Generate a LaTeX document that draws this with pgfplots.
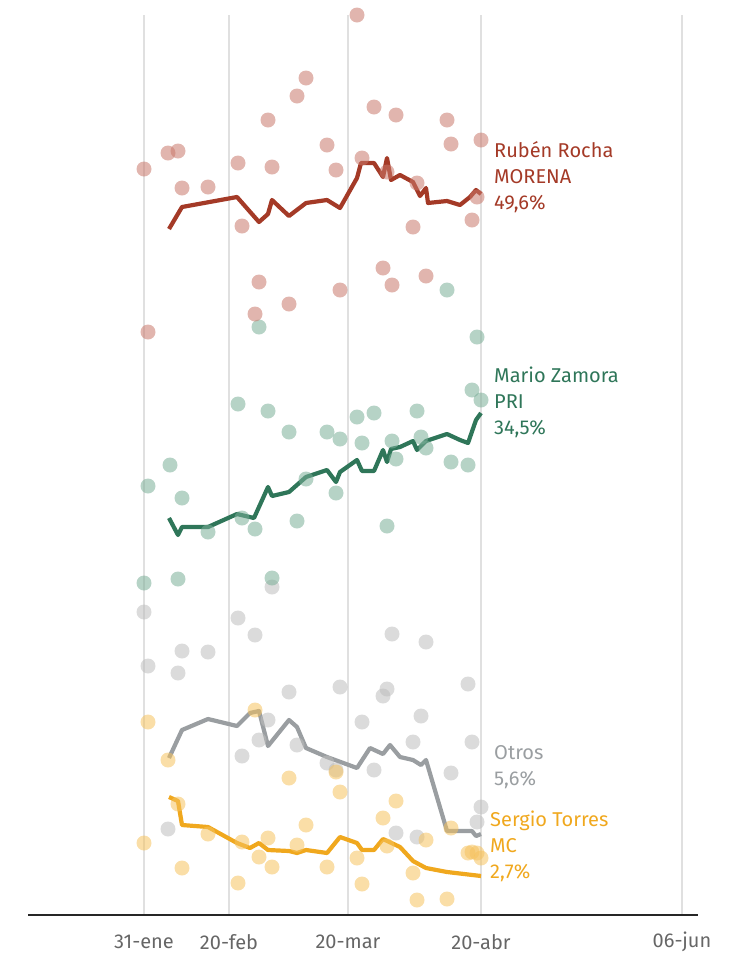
\documentclass[border=0pt]{standalone}
\usepackage{pgfplots}
\pgfplotsset{compat=1.18}
\usepackage{fontspec}
\setmainfont{Fira Sans}
\definecolor{rl}{HTML}{A43A27}\definecolor{rd}{HTML}{C9786B}
\definecolor{zl}{HTML}{2F7659}\definecolor{zd}{HTML}{7AAE97}
\definecolor{ol}{HTML}{9A9EA1}\definecolor{od}{HTML}{BDBDBD}
\definecolor{tl}{HTML}{F0A81E}\definecolor{td}{HTML}{F5C25E}
\begin{document}
\begin{tikzpicture}
\begin{axis}[scale only axis, width=750pt, height=962pt, xmin=0, xmax=750, ymin=0, ymax=962,
  y dir=reverse, hide axis, clip=false,
  dots/.style={only marks, mark=*, mark size=7.5pt, mark options={draw opacity=0, fill opacity=0.55}},
  ln/.style={no marks, line width=4.2pt, line join=round}]
\path (axis cs:0,0) rectangle (axis cs:750,962);
\foreach \x in {144,229,348,481,682}{\edef\t{\noexpand\draw[black!12, line width=1.2pt] (axis cs:\x,15)--(axis cs:\x,915);}\t}
\draw[black!85, line width=1.5pt] (axis cs:28,915)--(axis cs:698,915);
\foreach \x/\l in {144/31-ene,229/20-feb,348/20-mar,481/20-abr,682/06-jun}{\edef\t{\noexpand\node[text=black!60,font=\noexpand\fontsize{20}{22}\noexpand\selectfont] at (axis cs:\x,942) {\l};}\t}
% Otros
\addplot[dots, color=od] coordinates {(144,612)(148,666)(168,829)(178,673)(182,651)(208,652)(238,618)(242,756)(255,635)(259,740)(268,720)(272,587)(289,692)(297,745)(327,763)(336,770)(340,687)(362,722)(374,770)(383,696)(387,689)(392,634)(396,833)(413,742)(417,837)(421,716)(426,642)(451,773)(468,684)(472,742)(477,822)(481,807)};
% Torres
\addplot[dots, color=td] coordinates {(144,843)(148,722)(168,760)(178,804)(182,868)(208,834)(238,883)(242,842)(255,710)(259,857)(268,838)(272,867)(289,778)(297,845)(306,825)(327,867)(336,772)(340,792)(357,858)(362,884)(383,818)(387,846)(396,801)(413,873)(417,900)(426,840)(447,899)(451,828)(468,853)(472,852)(477,853)(481,858)};
% Zamora
\addplot[dots, color=zd] coordinates {(144,583)(148,486)(170,465)(178,579)(182,498)(208,532)(238,404)(242,518)(255,529)(259,327)(268,411)(272,578)(289,432)(297,521)(306,479)(327,432)(336,493)(340,439)(357,417)(362,443)(374,413)(387,526)(392,441)(396,459)(417,411)(421,437)(426,448)(447,290)(451,462)(468,465)(472,390)(477,337)(481,400)};
% Rocha
\addplot[dots, color=rd] coordinates {(144,169)(148,332)(168,153)(178,151)(182,188)(208,187)(238,163)(242,226)(255,314)(259,282)(268,120)(272,167)(289,304)(297,96)(306,78)(327,145)(336,170)(340,290)(357,15)(362,158)(374,107)(383,268)(387,172)(392,285)(396,115)(413,227)(417,183)(426,276)(447,120)(451,144)(472,220)(477,197)(481,140)};
\addplot[ln, color=rl] coordinates {(169,229)(182,207)(237,197)(259,222)(268,214)(272,200)(289,216)(306,203)(327,200)(340,208)(357,178)(361,163)(374,163)(383,177)(387,158)(391,180)(400,175)(413,182)(420,196)(426,188)(428,203)(447,201)(460,205)(470,197)(476,190)(481,194)};
\addplot[ln, color=zl] coordinates {(169,518)(178,535)(182,527)(208,527)(237,514)(254,518)(268,487)(272,496)(289,492)(306,477)(327,470)(336,482)(340,472)(357,460)(362,471)(374,471)(383,450)(387,462)(391,449)(400,447)(413,441)(417,450)(426,441)(447,434)(460,440)(468,443)(476,420)(481,413)};
\addplot[ln, color=ol] coordinates {(169,758)(182,730)(208,719)(237,726)(250,713)(259,711)(268,746)(289,720)(297,727)(306,748)(327,757)(357,768)(370,748)(383,754)(390,745)(400,757)(413,760)(421,765)(426,760)(447,831)(460,831)(472,831)(476,836)(481,834)};
\addplot[ln, color=tl] coordinates {(169,797)(178,801)(182,825)(208,827)(237,843)(250,848)(259,843)(268,850)(289,851)(297,853)(306,850)(327,853)(340,837)(357,843)(362,850)(374,850)(383,839)(400,847)(413,861)(426,868)(447,872)(481,876)};
\tikzset{lab/.style={anchor=north west, align=left, inner sep=0pt, font=\fontsize{20}{26}\selectfont}}
\node[lab, text=rl] at (axis cs:494,141) {Rubén Rocha\\MORENA\\49,6\%};
\node[lab, text=zl] at (axis cs:494,367) {Mario Zamora\\PRI\\34,5\%};
\node[lab, text=ol] at (axis cs:494,745) {Otros\\5,6\%};
\node[lab, text=tl] at (axis cs:490,811) {Sergio Torres\\MC\\2,7\%};
\end{axis}
\end{tikzpicture}
\end{document}
